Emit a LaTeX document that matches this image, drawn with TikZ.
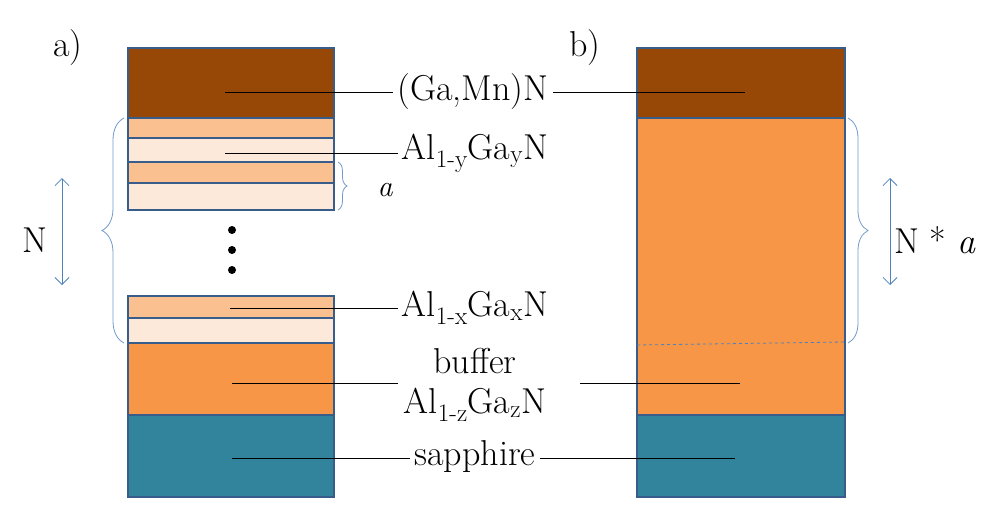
\documentclass[tikz,border=0pt]{standalone}
\usepackage{tikz}
\usetikzlibrary{decorations.pathreplacing,arrows.meta}
\definecolor{gamn}{HTML}{974806}
\definecolor{peach}{HTML}{FAC090}
\definecolor{pale}{HTML}{FDE9D9}
\definecolor{buf}{HTML}{F79646}
\definecolor{sapph}{HTML}{31849B}
\definecolor{edge}{HTML}{385D8A}
\definecolor{arr}{HTML}{4F81BD}
\tikzset{layer/.style={draw=edge,line width=1.6pt},
         lbl/.style={font=\rmfamily\fontsize{36}{40}\selectfont,inner sep=4pt},
         lead/.style={line width=0.8pt},
         brc/.style={draw=arr!80,line width=0.8pt,decorate,decoration={brace,amplitude=14pt}},
         dbl/.style={arr,line width=0.8pt,{Straight Barb[length=7pt]}-{Straight Barb[length=7pt]}}}
\begin{document}
\begin{tikzpicture}[x=1pt,y=-1pt]
                    \useasboundingbox (0,0) rectangle (1007,512);
                    % left stack
                    \draw[layer,fill=gamn] (128,48) rectangle (334,118);
                    \draw[layer,fill=peach] (128,118) rectangle (334,138);
                    \draw[layer,fill=pale] (128,138) rectangle (334,162);
                    \draw[layer,fill=peach] (128,162) rectangle (334,183);
                    \draw[layer,fill=pale] (128,183) rectangle (334,210);
                    \draw[layer,fill=peach] (128,296) rectangle (334,318);
                    \draw[layer,fill=pale] (128,318) rectangle (334,343);
                    \draw[layer,fill=buf] (128,343) rectangle (334,415);
                    \draw[layer,fill=sapph] (128,415) rectangle (334,497);
                    \foreach \y in {230,250,270} \fill (232,\y) circle (4pt);

                    % right stack
                    \draw[layer,fill=gamn] (637,48) rectangle (845,118);
                    \draw[layer,fill=buf] (637,118) rectangle (845,415);
                    \draw[layer,fill=sapph] (637,415) rectangle (845,497);
                    \draw[arr,dashed,line width=0.8pt] (637,345) -- (845,342);

                    \node[lbl] (pa) at (68,48) {a)};
                    \node[lbl] (pb) at (585,48) {b)};

                    \node[lbl] (gamnl) at (473,92) {(Ga,Mn)N};
                    \node[lbl] (ally) at (475,153) {Al\textsubscript{1-y}Ga\textsubscript{y}N};
                    \node[lbl] (allx) at (475,308) {Al\textsubscript{1-x}Ga\textsubscript{x}N};
                    \node[lbl] (bufl) at (475,361) {buffer};
                    \node[lbl] (allz) at (475,405) {Al\textsubscript{1-z}Ga\textsubscript{z}N};
                    \node[lbl] (sapl) at (475,457) {sapphire};
                    \node[lbl,font=\rmfamily\fontsize{30}{32}\selectfont\itshape] (per) at (385,190) {a};
                    \node[lbl] (nl) at (35,240) {N};
                    \node[lbl] (nal) at (935,240) {N * \textit{a}};

                    \draw[lead] (225,92) -- (gamnl.west);
                    \draw[lead] (gamnl.east) -- (745,92);
                    \draw[lead] (225,153) -- (ally.west |- 0,153);
                    \draw[lead] (230,308) -- (allx.west |- 0,308);
                    \draw[lead] (232,383) -- (398,383);
                    \draw[lead] (580,383) -- (740,383);
                    \draw[lead] (232,458) -- (sapl.west |- 0,458);
                    \draw[lead] (sapl.east |- 0,458) -- (735,458);

                    \draw[brc,decoration={amplitude=9pt}] (338,162) -- (338,210);
                    \draw[brc,decoration={mirror,amplitude=22pt}] (124,118) -- (124,343);
                    \draw[brc,decoration={amplitude=20pt}] (848,118) -- (848,343);
                    \draw[dbl] (62,178) -- (62,285);
                    \draw[dbl] (890,178) -- (890,285);
\end{tikzpicture}
\end{document}
